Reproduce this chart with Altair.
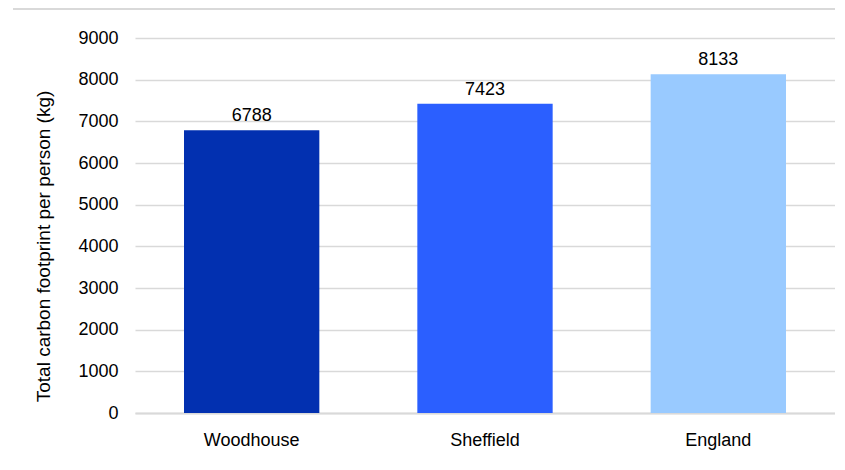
import altair as alt
import pandas as pd

areas = ["Woodhouse", "Sheffield", "England"]
footprints = [6788, 7423, 8133]
colors = ["#0230B0", "#2B5FFF", "#99CAFF"]
y_ticks = [0, 1000, 2000, 3000, 4000, 5000, 6000, 7000, 8000, 9000]

df = pd.DataFrame({"area": areas, "value": footprints})
FONT = "Liberation Sans"

base = alt.Chart(df)

bars = base.mark_bar().encode(
    x=alt.X("area:N", sort=areas, title=None,
            scale=alt.Scale(paddingInner=0.42, paddingOuter=0.21),
            axis=alt.Axis(labelAngle=0, labelFont=FONT, labelFontSize=18,
                          labelColor="#000000", labelPadding=18, ticks=False,
                          domainColor="#d9d9d9", domainWidth=2, grid=False)),
    y=alt.Y("value:Q", title="Total carbon footprint per person (kg)",
            scale=alt.Scale(domain=[0, 9000], nice=False),
            axis=alt.Axis(values=y_ticks, format="d", labelFont=FONT, labelFontSize=18,
                          labelColor="#000000", labelPadding=17, ticks=False,
                          domain=False, gridColor="#d9d9d9", gridWidth=1.5,
                          titleFont=FONT, titleFontSize=19, titleFontWeight="normal",
                          titleColor="#000000", titleAngle=270, titleAlign="center",
                          titleBaseline="middle", titleX=-92, titleY=208)),
    color=alt.Color("area:N", sort=areas,
                    scale=alt.Scale(domain=areas, range=colors), legend=None),
)

labels = base.mark_text(baseline="bottom", dy=-5, font=FONT, fontSize=18,
                        color="#000000").encode(
    x=alt.X("area:N", sort=areas),
    y="value:Q",
    text="value:Q",
)

border_df = pd.DataFrame({"k": [0]})
top_border = alt.Chart(border_df).mark_rule(color="#d9d9d9", strokeWidth=2).encode(
    x=alt.value(-122), x2=alt.value(720), y=alt.value(-29))

chart = alt.layer(bars, labels, top_border).properties(
    width=700, height=375,
    autosize=alt.AutoSizeParams(type="none"),
    padding={"left": 127, "top": 30, "right": 0, "bottom": 40},
).configure(background="white").configure_view(strokeWidth=0, stroke="transparent")

chart.save("out.html", embed_options={"renderer": "svg", "actions": False})
